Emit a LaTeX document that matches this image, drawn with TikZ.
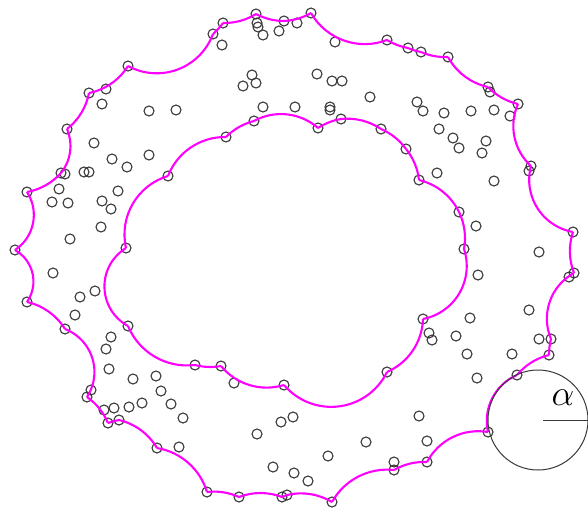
\documentclass[tikz,border=0pt]{standalone}
\usetikzlibrary{calc}
\definecolor{mag}{RGB}{255,0,255}
\newcommand\alarc[4]{%
 \draw[bnd] let \p1=(#3), \p2=(#4),
  \n1={atan2((\y2)-(\y1),(\x2)-(\x1))},
  \n2={asin(min(1,veclen((\x2)-(\x1),(\y2)-(\y1))/(2*#2)))}
 in (\p1) arc[start angle={\n1-(#1)*(90+\n2)}, end angle={\n1-(#1)*(90-\n2)}, radius=#2pt];}
\tikzset{
 ptc/.style={circle, draw=black!78, line width=1.1pt, minimum size=10pt, inner sep=0pt},
 bnd/.style={draw=mag, line width=2.1pt},
 gline/.style={draw=black!78, line width=1pt}
}
\begin{document}
\begin{tikzpicture}[x=1pt,y=-1pt]
\useasboundingbox (0,0) rectangle (588,509);
% outer boundary points
\foreach \nm/\px/\py in {o1/223/23,o2/256/14,o3/284/21,o4/311/13,o5/387/40,o6/408/48,o7/421/52,o8/448/57,o9/488/87,o10/518/104,o11/531/166,o12/573/232,o13/574/273,o14/551/339,o15/549/355,o16/517/375,o17/488/432,o18/427/462,o19/394/470,o20/332/502,o21/287/495,o22/282/497,o23/239/497,o24/207/492,o25/157/448,o26/119/420,o27/108/423,o28/87/397,o29/65/329,o30/27/302,o31/15/250,o32/27/192,o33/61/173,o34/67/129,o35/89/93,o36/128/66,o37/213/34}
  \node[ptc] (\nm) at (\px,\py) {};
% inner boundary points
\foreach \nm/\px/\py in {i1/254/121,i2/318/128,i3/341/119,i4/381/129,i5/406/149,i6/419/180,i7/459/212,i8/464/249,i9/423/319,i10/387/372,i11/284/385,i12/221/366,i13/195/365,i14/128/326,i15/126/248,i16/168/176,i17/226/137}
  \node[ptc] (\nm) at (\px,\py) {};
% interior points
\foreach \px/\py [count=\k] in {222/45,257/23,258/27,263/35,279/31,297/23,106/89,102/104,149/111,176/110,94/143,112/159,127/167,149/155,84/172,89/172,59/189,52/202,68/203,102/201,111/209,118/191,101/227,70/239,252/75,243/86,256/83,263/107,295/107,335/42,317/74,332/81,342/81,370/97,330/107,330/110,417/102,423/111,444/113,471/111,494/110,510/116,439/129,453/138,459/148,486/141,482/153,437/173,494/181,476/226,539/252,53/273,80/297,95/291,75/315,111/337,106/349,109/369,133/379,156/376,161/391,171/404,183/418,142/403,129/407,114/408,104/410,179/447,257/434,281/422,293/417,273/467,294/473,234/383,478/275,429/333,432/340,470/318,456/336,467/354,477/378,512/354,529/310,539/339,419/416,427/441,366/442,328/456,308/481,490/92,529/171,569/277,394/462,91/390,65/174}
  \node[ptc] (q\k) at (\px,\py) {};
% outer boundary arcs
\foreach \pa/\pb/\rr in {o1/o2/60,o2/o3/60,o3/o4/60,o4/o5/62,o5/o6/60,o6/o7/60,o7/o8/60,o8/o9/60,o9/o10/60,o10/o11/54,o11/o12/53,o12/o13/60,o13/o14/52,o14/o15/60,o15/o16/60,o16/o17/50,o17/o18/58,o18/o19/60,o19/o20/63,o20/o21/60,o21/o22/60,o22/o23/60,o23/o24/60,o24/o25/63,o25/o26/60,o26/o27/60,o27/o28/60,o28/o29/46,o29/o30/60,o30/o31/36,o31/o32/42,o32/o33/60,o33/o34/43,o34/o35/60,o35/o36/60,o36/o37/60,o37/o1/60}
  {\alarc{1}{\rr}{\pa}{\pb}}
% inner boundary arcs
\foreach \pa/\pb/\rr in {i1/i2/56,i2/i3/60,i3/i4/60,i4/i5/60,i5/i6/60,i6/i7/60,i7/i8/60,i8/i9/54,i9/i10/60,i10/i11/62,i11/i12/59,i12/i13/60,i13/i14/64,i14/i15/45,i15/i16/61,i16/i17/61,i17/i1/60}
  {\alarc{-1}{\rr}{\pa}{\pb}}
% alpha circle
\node[circle, gline, minimum size=100pt, inner sep=0pt] (ac) at (538,420) {};
\coordinate (rs) at (543,420);
\draw[gline] (rs) -- (ac.east);
\node[scale=1.45, inner sep=0pt] (al) at (563,398) {\Huge$\alpha$};
\end{tikzpicture}
\end{document}
